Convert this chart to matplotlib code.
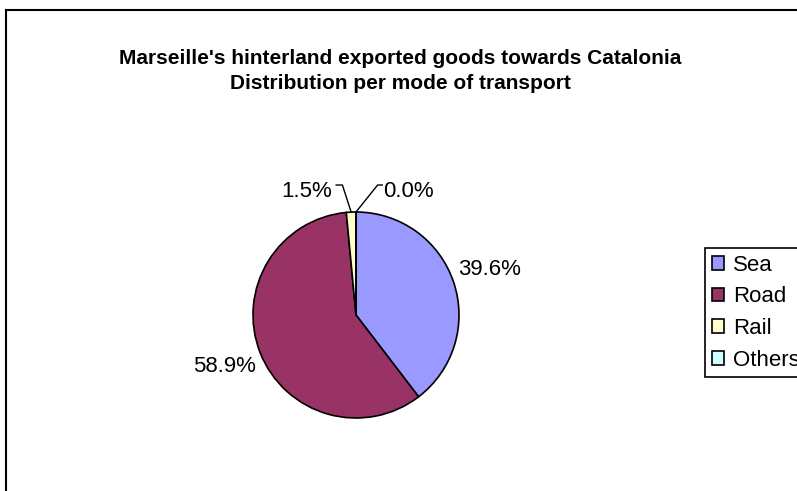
import numpy as np
import matplotlib
matplotlib.use("Agg")
import matplotlib.pyplot as plt
from matplotlib.patches import Rectangle, Patch

plt.rcParams["font.family"] = ["Liberation Sans", "DejaVu Sans"]

title_lines = ["Marseille's hinterland exported goods towards Catalonia",
               "Distribution per mode of transport"]
modes = ["Sea", "Road", "Rail", "Others"]
shares = [39.6, 58.9, 1.5, 0.0]
colors = ["#9999FF", "#993366", "#FFFFCC", "#CCFFFF"]

W, H = 797, 491
fig = plt.figure(figsize=(W / 100, H / 100), dpi=100)


def fx(px):
    return px / W


def fy(py):
    return 1 - py / H


# outer chart border (runs off the right and bottom edges)
fig.patches.append(Rectangle((fx(6), fy(505)), fx(820) - fx(6), fy(10) - fy(505),
                             transform=fig.transFigure, fill=False,
                             edgecolor="black", linewidth=1.5))

fig.text(fx(400), fy(64), title_lines[0], ha="center", va="baseline",
         fontsize=15, fontweight="bold")
fig.text(fx(400), fy(89), title_lines[1], ha="center", va="baseline",
         fontsize=15, fontweight="bold")

# pie axes: centre (356, 315), radius 103 px
cx, cy, r = 356, 315, 103
ax = fig.add_axes([fx(cx - r), fy(cy + r), 2 * r / W, 2 * r / H])
wedges, _ = ax.pie(shares, colors=colors, startangle=90, counterclock=False,
                   radius=1, wedgeprops=dict(edgecolor="black", linewidth=1.2))
ax.set_xlim(-1, 1)
ax.set_ylim(-1, 1)
ax.set_aspect("equal")
ax.axis("off")

# percentage labels for the big slices
for w, v in zip(wedges, shares):
    mid = np.deg2rad((w.theta1 + w.theta2) / 2)
    if v >= 5:
        ax.text(1.37 * np.cos(mid), 1.37 * np.sin(mid), "{:.1f}%".format(v),
                ha="center", va="center", fontsize=16, clip_on=False)

# small slices with leader lines: (diagonal dx, stub dx, text gap)
small = {2: (-0.085, -0.06, -0.045), 3: (0.21, 0.045, 0.01)}
for i, (ddx, sdx, gap) in small.items():
    w = wedges[i]
    mid = np.deg2rad((w.theta1 + w.theta2) / 2)
    ex, ey = np.cos(mid), np.sin(mid)
    kx, ky = ex + ddx, 1.262
    sx = kx + sdx
    ax.plot([ex, kx, sx], [ey, ky, ky], color="black", linewidth=1.0,
            clip_on=False)
    ax.text(sx + gap, 1.146, "{:.1f}%".format(shares[i]),
            ha="left" if gap > 0 else "right", va="baseline", fontsize=16,
            clip_on=False)

handles = [Patch(facecolor=c, edgecolor="black", linewidth=1.2) for c in colors]
leg = fig.legend(handles, modes, loc="upper left",
                 bbox_to_anchor=(fx(705), fy(248)), bbox_transform=fig.transFigure,
                 borderaxespad=0, fontsize=16, handlelength=0.55,
                 handleheight=0.55, handletextpad=0.4, labelspacing=0.48,
                 borderpad=0.3, fancybox=False, framealpha=1)
leg.get_frame().set_edgecolor("black")
leg.get_frame().set_linewidth(1.2)

fig.savefig("out.png", dpi=100)
